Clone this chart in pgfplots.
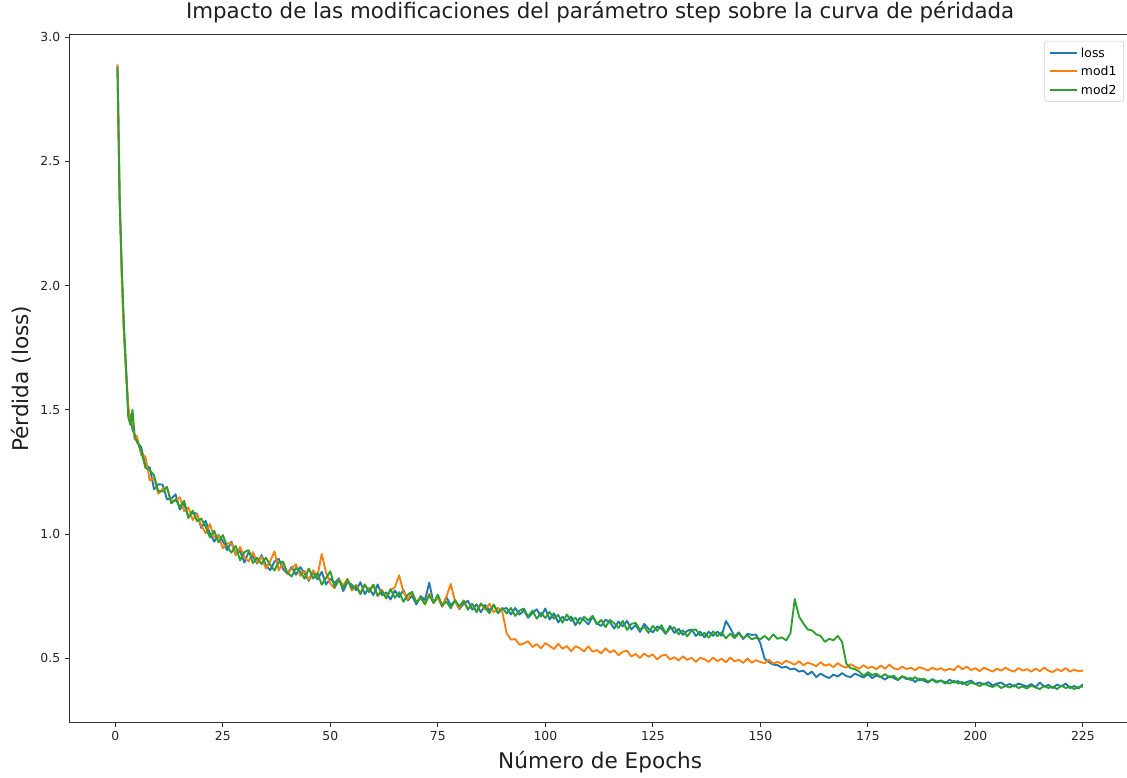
\documentclass[border=0pt]{standalone}
\usepackage{fontspec}
\setmainfont{DejaVu Sans}
\usepackage{pgfplots}
\usepackage{pgfplotstable}
\pgfplotsset{compat=1.18}

\definecolor{tabblue}{HTML}{1F77B4}
\definecolor{taborange}{HTML}{FF7F0E}
\definecolor{tabgreen}{HTML}{2CA02C}

% epoch, loss, mod1, mod2
\pgfplotstableread{
x loss mod1 mod2
0.5 2.885 2.890 2.880
1.0 2.350 2.380 2.340
1.5 2.050 2.020 2.070
2.0 1.820 1.800 1.840
2.5 1.670 1.640 1.660
3.0 1.500 1.520 1.470
3.5 1.470 1.440 1.440
4.0 1.420 1.460 1.500
4.5 1.400 1.380 1.390
5.0 1.370 1.395 1.375
6 1.350 1.318 1.336
7 1.275 1.312 1.266
8 1.268 1.215 1.258
9 1.180 1.225 1.236
10 1.200 1.162 1.172
11 1.199 1.183 1.171
12 1.140 1.186 1.190
13 1.141 1.131 1.123
14 1.160 1.134 1.140
15 1.098 1.148 1.108
16 1.122 1.092 1.134
17 1.067 1.107 1.065
18 1.086 1.056 1.094
19 1.082 1.080 1.052
20 1.024 1.034 1.062
21 1.053 1.003 1.029
22 1.002 1.040 0.986
23 0.969 0.985 1.013
24 0.996 0.994 0.966
25 0.972 0.942 0.996
26 0.935 0.963 0.949
27 0.969 0.963 0.925
28 0.918 0.914 0.952
29 0.932 0.948 0.894
30 0.885 0.907 0.927
31 0.927 0.889 0.935
32 0.909 0.927 0.883
33 0.881 0.885 0.905
34 0.915 0.909 0.879
35 0.875 0.861 0.905
36 0.854 0.890 0.876
37 0.889 0.930 0.853
38 0.900 0.854 0.886
39 0.859 0.885 0.889
40 0.840 0.838 0.844
41 0.867 0.861 0.829
42 0.836 0.878 0.864
43 0.867 0.831 0.849
44 0.842 0.852 0.820
45 0.811 0.815 0.861
46 0.846 0.854 0.820
47 0.817 0.829 0.843
48 0.848 0.920 0.796
49 0.797 0.845 0.823
50 0.820 0.800 0.850
51 0.802 0.782 0.786
52 0.822 0.818 0.814
53 0.770 0.792 0.782
54 0.808 0.820 0.816
55 0.796 0.772 0.780
56 0.774 0.796 0.790
57 0.806 0.760 0.758
58 0.758 0.798 0.796
59 0.782 0.770 0.766
60 0.754 0.794 0.796
61 0.797 0.749 0.753
62 0.754 0.776 0.770
63 0.765 0.741 0.741
64 0.736 0.774 0.778
65 0.773 0.785 0.743
66 0.746 0.834 0.766
67 0.775 0.767 0.727
68 0.732 0.736 0.756
69 0.751 0.765 0.767
70 0.716 0.726 0.724
71 0.750 0.744 0.744
72 0.734 0.716 0.718
73 0.804 0.760 0.754
74 0.722 0.724 0.722
75 0.746 0.744 0.756
76 0.707 0.709 0.713
77 0.746 0.748 0.728
78 0.713 0.799 0.701
79 0.732 0.728 0.734
80 0.697 0.699 0.709
81 0.719 0.733 0.731
82 0.731 0.699 0.695
83 0.695 0.717 0.719
84 0.717 0.689 0.685
85 0.685 0.721 0.719
86 0.714 0.696 0.704
87 0.693 0.719 0.681
88 0.714 0.684 0.716
89 0.681 0.703 0.683
90 0.698 0.686 0.702
91 0.702 0.600 0.680
92 0.676 0.575 0.702
93 0.702 0.577 0.670
94 0.676 0.554 0.692
95 0.692 0.560 0.700
96 0.663 0.568 0.667
97 0.682 0.545 0.692
98 0.697 0.557 0.659
99 0.668 0.540 0.682
100 0.700 0.561 0.662
101 0.656 0.549 0.686
102 0.681 0.537 0.659
103 0.644 0.558 0.674
104 0.667 0.538 0.643
105 0.652 0.549 0.676
106 0.668 0.528 0.650
107 0.633 0.548 0.663
108 0.662 0.541 0.638
109 0.653 0.527 0.667
110 0.636 0.548 0.652
111 0.667 0.526 0.671
112 0.640 0.533 0.636
113 0.630 0.519 0.654
114 0.655 0.540 0.625
115 0.646 0.523 0.654
116 0.619 0.532 0.641
117 0.648 0.512 0.622
118 0.628 0.526 0.650
119 0.650 0.530 0.614
120 0.616 0.507 0.638
121 0.634 0.517 0.642
122 0.606 0.501 0.614
123 0.638 0.519 0.626
124 0.618 0.506 0.602
125 0.604 0.515 0.630
126 0.628 0.495 0.610
127 0.619 0.510 0.633
128 0.598 0.514 0.600
129 0.630 0.495 0.620
130 0.602 0.504 0.624
131 0.618 0.491 0.596
132 0.594 0.508 0.612
133 0.610 0.493 0.588
134 0.616 0.502 0.612
135 0.590 0.485 0.616
136 0.607 0.502 0.591
137 0.584 0.496 0.602
138 0.607 0.485 0.583
139 0.590 0.503 0.608
140 0.607 0.488 0.589
141 0.590 0.498 0.604
142 0.650 0.483 0.580
143 0.621 0.503 0.599
144 0.587 0.488 0.581
145 0.604 0.494 0.600
146 0.577 0.481 0.581
147 0.598 0.499 0.592
148 0.594 0.482 0.576
149 0.595 0.492 0.583
150 0.560 0.485 0.576
151 0.498 0.480 0.590
152 0.484 0.494 0.574
153 0.474 0.478 0.596
154 0.472 0.486 0.578
155 0.462 0.476 0.584
156 0.466 0.490 0.572
157 0.455 0.482 0.600
158 0.458 0.474 0.738
159 0.446 0.488 0.668
160 0.450 0.472 0.640
161 0.434 0.482 0.616
162 0.446 0.476 0.612
163 0.424 0.468 0.596
164 0.438 0.484 0.590
165 0.428 0.470 0.566
166 0.420 0.476 0.578
167 0.434 0.464 0.572
168 0.426 0.480 0.590
169 0.440 0.468 0.566
170 0.428 0.462 0.478
171 0.424 0.476 0.460
172 0.438 0.466 0.456
173 0.430 0.458 0.446
174 0.422 0.472 0.428
175 0.436 0.460 0.444
176 0.420 0.466 0.432
177 0.430 0.456 0.438
178 0.424 0.470 0.424
179 0.414 0.458 0.436
180 0.428 0.474 0.422
181 0.420 0.460 0.430
182 0.412 0.454 0.414
183 0.426 0.466 0.428
184 0.416 0.456 0.420
185 0.420 0.462 0.412
186 0.404 0.452 0.424
187 0.418 0.464 0.410
188 0.410 0.458 0.418
189 0.402 0.450 0.406
190 0.416 0.462 0.414
191 0.406 0.454 0.402
192 0.410 0.460 0.410
193 0.398 0.450 0.404
194 0.414 0.458 0.398
195 0.402 0.452 0.410
196 0.408 0.470 0.398
197 0.396 0.456 0.404
198 0.404 0.466 0.392
199 0.410 0.452 0.402
200 0.396 0.460 0.396
201 0.402 0.448 0.388
202 0.394 0.462 0.398
203 0.404 0.454 0.390
204 0.390 0.446 0.384
205 0.398 0.458 0.394
206 0.402 0.450 0.380
207 0.390 0.462 0.388
208 0.396 0.452 0.382
209 0.386 0.446 0.392
210 0.398 0.460 0.380
211 0.392 0.450 0.386
212 0.386 0.456 0.378
213 0.396 0.446 0.390
214 0.384 0.458 0.382
215 0.402 0.448 0.376
216 0.386 0.462 0.388
217 0.392 0.450 0.380
218 0.380 0.444 0.386
219 0.394 0.456 0.376
220 0.386 0.448 0.390
221 0.398 0.460 0.380
222 0.380 0.446 0.386
223 0.388 0.454 0.376
224 0.378 0.448 0.384
225 0.395 0.450 0.386
}\lossdata

\begin{document}
\begin{tikzpicture}
\begin{axis}[
    scale only axis,
    width=796.3pt, height=515.8pt,
    xmin=-10.7, xmax=236.2,
    ymin=0.2407, ymax=3.009,
    xtick={0,25,...,225},
    ytick={0.5,1.0,1.5,2.0,2.5,3.0},
    tick align=outside,
    xtick pos=bottom, ytick pos=left,
    major tick length=3.3pt,
    tick style={black!80, line width=0.75pt},
    axis line style={black!80, line width=0.75pt},
    /pgf/number format/assume math mode=true,
    ticklabel style={font=\fontsize{9.3}{11}\selectfont, text=black!85},
    yticklabel style={/pgf/number format/fixed, /pgf/number format/fixed zerofill, /pgf/number format/precision=1},
    title={Impacto de las modificaciones del parámetro step sobre la curva de péridada},
    title style={at={(axis description cs:0.5,1.01163)}, anchor=base, font=\fontsize{16}{19}\selectfont, text=black!88},
    xlabel={Número de Epochs},
    xlabel style={at={(axis description cs:0.5,-0.0663)}, anchor=base, font=\fontsize{16.2}{19}\selectfont, text=black!88},
    ylabel={Pérdida (loss)},
    ylabel style={at={(axis description cs:-0.0386,0.5)}, anchor=base, font=\fontsize{16.2}{19}\selectfont, text=black!88},
    legend style={at={(axis description cs:0.9934,0.9913)}, anchor=north east,
        draw=black!20, rounded corners=2pt, fill=white,
        font=\fontsize{9.3}{11}\selectfont,
        inner xsep=3.5pt, inner ysep=1.9pt,
        nodes={text height=7pt, text depth=0pt, inner ysep=3.4pt}},
    legend cell align=left,
    legend image code/.code={\draw[#1] (0pt,0pt) -- (20.5pt,0pt);},
    every axis plot/.append style={line width=1.4pt, line join=round},
]
\addplot[tabblue] table[x=x, y=loss] {\lossdata};
\addplot[taborange] table[x=x, y=mod1] {\lossdata};
\addplot[tabgreen] table[x=x, y=mod2] {\lossdata};
\legend{loss, mod1, mod2}
\coordinate (bl) at (rel axis cs:0,0);
\end{axis}
\pgfresetboundingbox
\useasboundingbox (bl) ++(-52pt,-41.5pt) rectangle ++(845.3pt,583.5pt);
\end{tikzpicture}
\end{document}
